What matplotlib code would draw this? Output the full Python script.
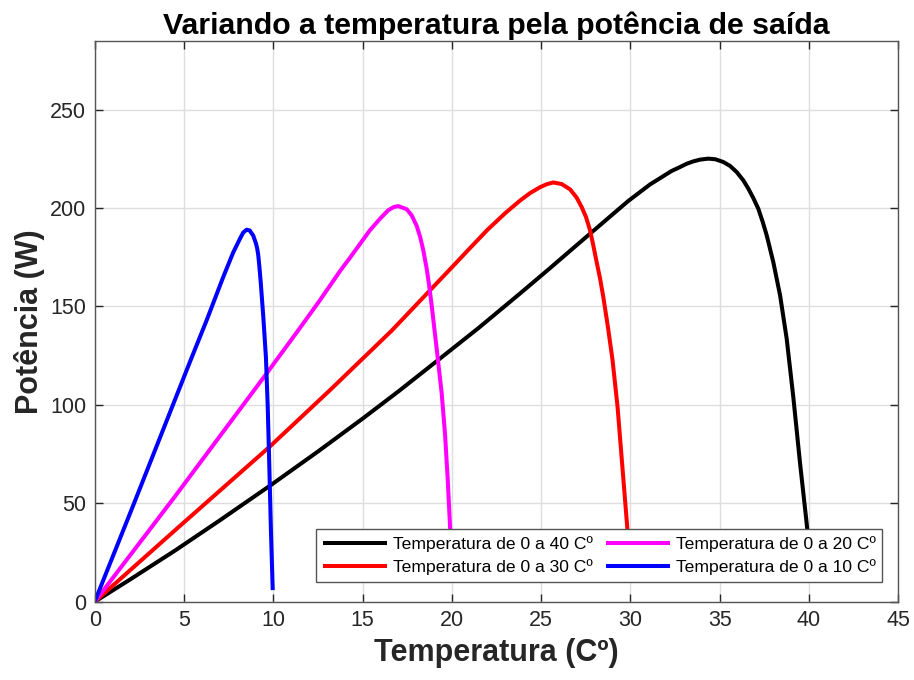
import matplotlib
matplotlib.use("Agg")
import matplotlib.pyplot as plt

# ---- data ----
x_40 = [0, 2, 4.5, 7, 9.87, 12.5, 15, 17, 19.15, 21.5, 23.82, 25.5, 27.55, 29.88,
        31.1, 32.3, 32.77, 33.15, 33.52, 33.9, 34.36, 34.75, 35.2, 35.58, 35.95,
        36.32, 36.6, 36.88, 37.16, 37.41, 37.63, 38.0, 38.38, 38.75, 39.12, 39.5,
        39.87, 40.0]
y_40 = [0, 11.4, 26.0, 41.3, 59.3, 76.3, 93, 106.8, 122.2, 139.1, 156.6, 169.5,
        185.5, 203.6, 212.0, 218.8, 220.8, 222.5, 223.7, 224.6, 225.1, 224.8, 223.4,
        221.4, 218.3, 214.1, 209.9, 205.1, 199.7, 192.9, 186.2, 172.6, 155.7, 133.7,
        104.1, 70.3, 39.8, 28]

x_30 = [0, 4.66, 9.78, 13.2, 16.63, 20.17, 21.0, 22.0, 23.0, 23.82, 24.38, 24.94,
        25.31, 25.68, 26.15, 26.62, 26.99, 27.27, 27.51, 27.74, 27.92, 28.11, 28.3,
        28.48, 28.74, 29.0, 29.28, 29.58, 29.82, 29.9]
y_30 = [0, 37.6, 78.6, 107.7, 137.7, 171.5, 179.5, 189, 197.5, 203.8, 207.6, 210.6,
        212.1, 213, 212.2, 209.5, 205.3, 200.5, 195.5, 188.7, 181.1, 172.5, 164.2,
        154.9, 139.6, 122.7, 99, 65.2, 38.1, 25]

x_20 = [0, 4.48, 9.63, 11.4, 12.6, 13.74, 14.3, 14.86, 15.42, 15.98, 16.44, 16.75,
        17.0, 17.47, 17.75, 18.03, 18.22, 18.4, 18.59, 18.74, 18.87, 19.15, 19.43,
        19.62, 19.77, 19.9, 19.97]
y_20 = [0, 53.3, 116, 137.9, 153, 168, 174.8, 181.8, 188.8, 194.6, 198.9, 200.5,
        201, 199.4, 196.3, 191, 185.5, 178.6, 169.3, 159.9, 150.6, 128.6, 106,
        85, 62, 38.1, 25]

x_10 = [0, 2.16, 5.34, 6.27, 7.2, 7.76, 8.14, 8.32, 8.51, 8.68, 8.88, 9.03, 9.1,
        9.16, 9.22, 9.30, 9.44, 9.59, 9.69, 9.78, 9.87, 9.97]
y_10 = [0, 49, 122, 143, 165, 177.5, 184.5, 187.6, 189.0, 188.6, 186.0, 182, 179.5,
        176, 170.5, 162, 145, 124, 99, 68.5, 36, 5.9]

labels = ["Temperatura de 0 a 40 Cº", "Temperatura de 0 a 30 Cº",
          "Temperatura de 0 a 20 Cº", "Temperatura de 0 a 10 Cº"]
colors = ["black", "red", "magenta", "blue"]

x_ticks = [0, 5, 10, 15, 20, 25, 30, 35, 40, 45]
y_ticks = [0, 50, 100, 150, 200, 250]

plt.rcParams['font.family'] = ['Liberation Sans', 'DejaVu Sans']

fig = plt.figure(figsize=(9.14, 6.8), dpi=100)
ax = fig.add_axes([0.1036, 0.1151, 0.8792, 0.8250])

series = [(x_40, y_40), (x_30, y_30), (x_20, y_20), (x_10, y_10)]
for (xs, ys), c, lab in zip(series, colors, labels):
    ax.plot(xs, ys, color=c, lw=2.9, label=lab, solid_joinstyle='round',
            solid_capstyle='butt')

ax.set_xlim(0, 45)
ax.set_ylim(0, 285)
ax.set_xticks(x_ticks)
ax.set_yticks(y_ticks)
ax.grid(True, color='#dedede', lw=1.0)
ax.set_axisbelow(True)
ax.tick_params(direction='in', length=6, width=1, top=True, right=True,
               labelsize=15.5, colors='#262626', pad=6)
for s in ax.spines.values():
    s.set_color('#555555')
    s.set_linewidth(1.0)

ax.set_title("Variando a temperatura pela potência de saída", fontsize=21.8,
             fontweight='bold', pad=5)
ax.set_xlabel("Temperatura (Cº)", fontsize=22, fontweight='bold', color='#262626', labelpad=5)
ax.set_ylabel("Potência (W)", fontsize=22, fontweight='bold', color='#262626', labelpad=4)

leg = ax.legend(ncol=2, loc='lower right', bbox_to_anchor=(0.980, 0.0357),
                fontsize=12.6, frameon=True, fancybox=False, handlelength=3.66,
                columnspacing=0.76, handletextpad=0.34, borderpad=0.38,
                labelspacing=0.42, borderaxespad=0)
leg.get_frame().set_edgecolor('#555555')
leg.get_frame().set_linewidth(1.0)
leg.get_frame().set_alpha(1)

fig.savefig("out.png", dpi=100)
